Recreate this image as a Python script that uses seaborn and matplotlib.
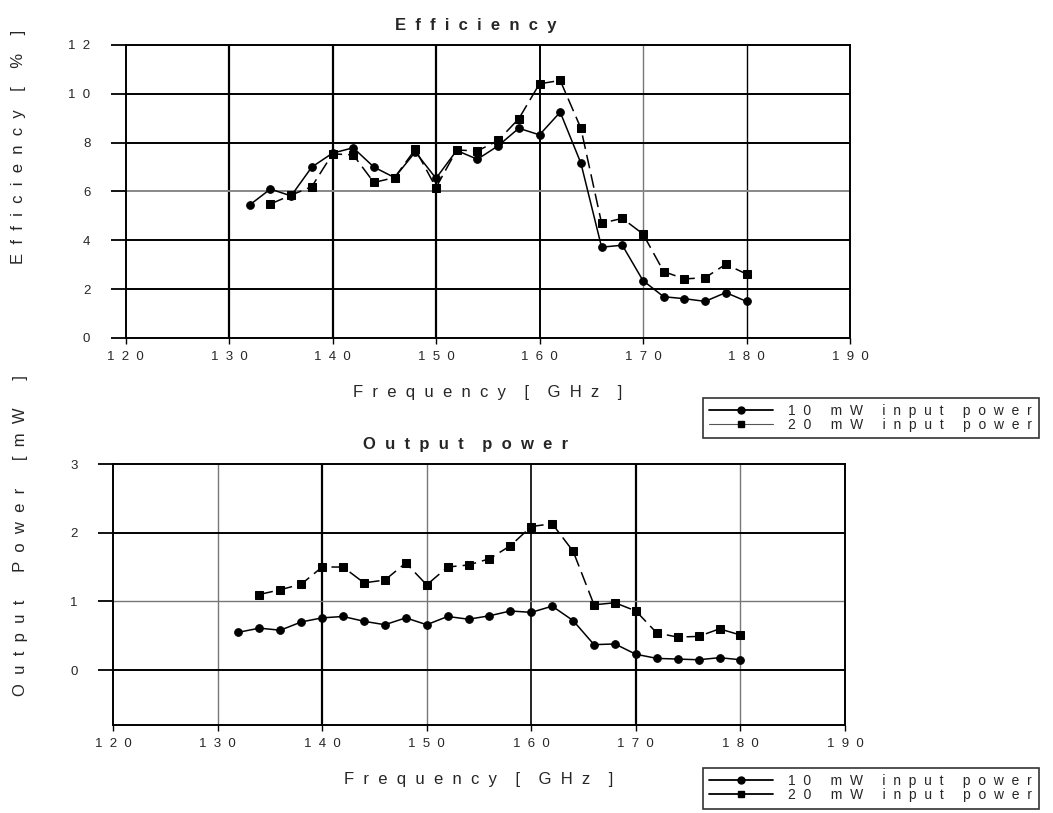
import numpy as np
import pandas as pd
import matplotlib
matplotlib.use("Agg")
import matplotlib.pyplot as plt
from matplotlib.lines import Line2D
import seaborn as sns

# ---- data ----
freq_10 = [132, 134, 136, 138, 140, 142, 144, 146, 148, 150, 152, 154, 156, 158, 160,
           162, 164, 166, 168, 170, 172, 174, 176, 178, 180]
freq_20 = freq_10[1:]
eff_10 = [5.45, 6.10, 5.82, 7.00, 7.57, 7.79, 7.00, 6.57, 7.62, 6.54, 7.68, 7.32, 7.87, 8.59, 8.32,
          9.25, 7.16, 3.72, 3.80, 2.35, 1.69, 1.61, 1.50, 1.86, 1.50]
eff_20 = [5.49, 5.85, 6.20, 7.54, 7.50, 6.37, 6.57, 7.73, 6.16, 7.70, 7.66, 8.09, 8.98, 10.41,
          10.55, 8.59, 4.70, 4.90, 4.26, 2.72, 2.42, 2.47, 3.02, 2.62]
pow_10 = [0.55, 0.61, 0.58, 0.70, 0.76, 0.78, 0.71, 0.66, 0.76, 0.66, 0.78, 0.74, 0.79, 0.86, 0.84,
          0.93, 0.72, 0.37, 0.38, 0.23, 0.17, 0.16, 0.15, 0.18, 0.15]
pow_20 = [1.10, 1.17, 1.25, 1.50, 1.50, 1.27, 1.31, 1.56, 1.24, 1.50, 1.53, 1.62, 1.81, 2.09,
          2.13, 1.73, 0.95, 0.98, 0.86, 0.54, 0.48, 0.49, 0.60, 0.51]
x_ticks = [120, 130, 140, 150, 160, 170, 180, 190]
eff_ticks = [0, 2, 4, 6, 8, 10, 12]
pow_ticks = [0, 1, 2, 3]
series_labels = ["10 mW input power", "20 mW input power"]


def sp(text, n_in=2, n_word=5):
    """Letter-spaced text like the original chart."""
    return (" " * n_word).join((" " * n_in).join(w) for w in text.split(" "))


sns.set_style("white")
plt.rcParams["font.family"] = ["Liberation Sans", "DejaVu Sans"]

W, H = 1053, 813
fig = plt.figure(figsize=(W / 100, H / 100), dpi=100)


def fr(l, r, t, b):
    return [l / W, 1 - b / H, (r - l) / W, (b - t) / H]


ax1 = fig.add_axes(fr(125.5, 850, 45, 338))
ax2 = fig.add_axes(fr(113, 845, 464, 725))

df10 = pd.DataFrame({"f": freq_10, "eff": eff_10, "pw": pow_10})
df20 = pd.DataFrame({"f": freq_20, "eff": eff_20, "pw": pow_20})


def draw(ax, ycol, ylim, yticks, vstyle, hstyle, ylabel, title, title_x):
    ax.set_xlim(120, 190)
    ax.set_ylim(*ylim)
    for xv, (c, lw) in vstyle.items():
        ax.axvline(xv, color=c, lw=lw, zorder=0)
    for yv, (c, lw) in hstyle.items():
        ax.axhline(yv, color=c, lw=lw, zorder=0)
    sns.lineplot(data=df10, x="f", y=ycol, ax=ax, color="black", lw=1.1,
                 marker="o", markersize=5.5, markeredgecolor="black", zorder=3)
    sns.lineplot(data=df20, x="f", y=ycol, ax=ax, color="black", lw=1.1,
                 linestyle=(0, (9, 4)), marker="s", markersize=5.5,
                 markeredgecolor="black", zorder=3)
    ax.set_xticks(x_ticks)
    ax.set_xticklabels([sp(str(v), 2) for v in x_ticks], fontsize=9.5)
    ax.set_yticks(yticks)
    ax.set_yticklabels([sp(str(v), 2) for v in yticks], fontsize=9.5)
    ax.tick_params(axis="y", length=10.8, width=1.3, pad=14.5, left=True, color="black")
    ax.tick_params(axis="x", length=4, width=1.0, pad=5, bottom=True, color="black")
    for s in ax.spines.values():
        s.set_color("black")
        s.set_linewidth(1.4)
    ax.set_xlabel(sp("Frequency [ GHz ]", 2, 4), fontsize=12, labelpad=16)
    ax.set_ylabel(ylabel, fontsize=12)
    t = ax.set_title(title, fontsize=12, fontweight="bold", pad=11)
    t.set_x(title_x)


draw(ax1, "eff", (0, 12), eff_ticks,
     {130: ("black", 1.6), 140: ("black", 1.6), 150: ("black", 1.6),
      160: ("black", 1.4), 170: ("#777777", 1.0), 180: ("black", 1.0)},
     {2: ("black", 1.4), 4: ("black", 1.4), 6: ("#888888", 1.4),
      8: ("black", 1.4), 10: ("black", 1.4)},
     sp("Efficiency [ % ]", 2, 4), sp("Efficiency", 2), 0.484)
draw(ax2, "pw", (-0.8, 3), pow_ticks,
     {130: ("#777777", 1.0), 140: ("black", 1.6), 150: ("#777777", 1.0),
      160: ("black", 1.2), 170: ("black", 1.6), 180: ("#777777", 1.0)},
     {2: ("black", 1.4), 1: ("#777777", 1.0), 0: ("black", 1.4)},
     sp("Output Power [mW ]", 2, 6), sp("Output power", 2, 4), 0.481)
ax1.yaxis.set_label_coords(-0.137, 0.652)
ax2.yaxis.set_label_coords(-0.116, 0.724)


def legend_at(top_px, second_color, second_lw):
    handles = [
        Line2D([], [], color="black", lw=1.3, marker="o", markersize=5),
        Line2D([], [], color=second_color, lw=second_lw, marker="s", markersize=5,
               markeredgecolor="black", markerfacecolor="black"),
    ]
    leg = fig.legend(handles, [sp(s, 2, 5) for s in series_labels], loc="upper left",
                     bbox_to_anchor=(703 / W, 1 - top_px / H),
                     fontsize=10, handlelength=4.6, handletextpad=1.1,
                     labelspacing=0.0, borderpad=0.45, frameon=True,
                     fancybox=False, borderaxespad=0)
    f = leg.get_frame()
    f.set_edgecolor("black")
    f.set_linewidth(1.2)
    return leg


legend_at(398, "#555555", 0.8)
legend_at(768, "black", 1.3)

fig.savefig("out.png", dpi=100)
